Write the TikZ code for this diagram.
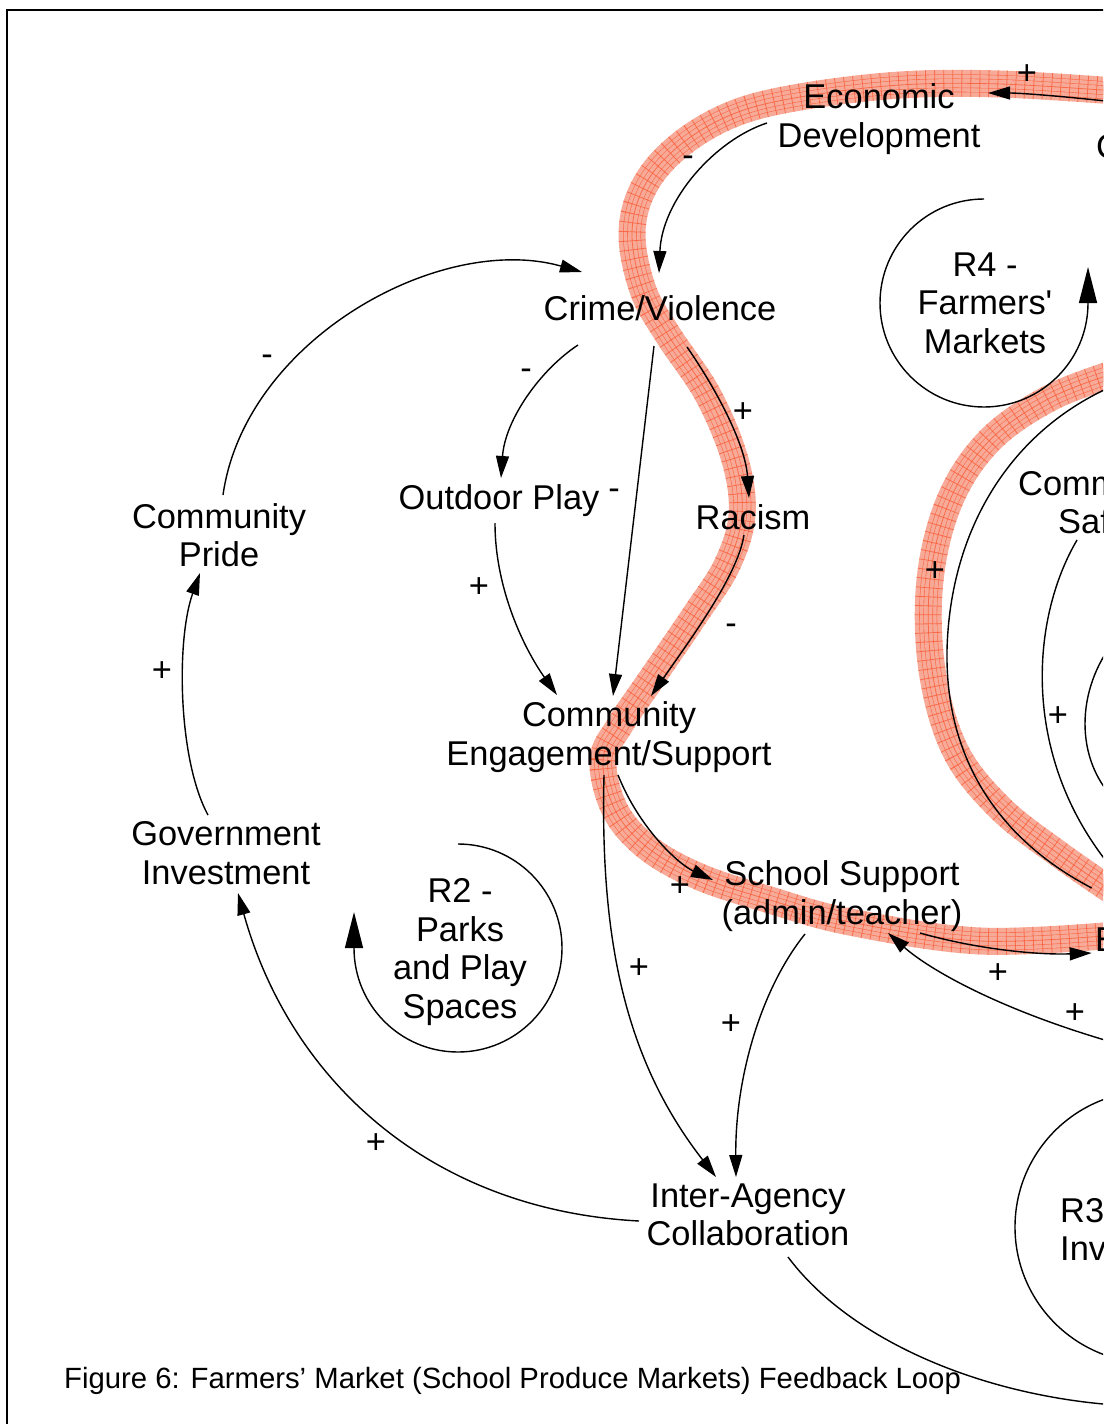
\documentclass[tikz,border=0pt]{standalone}
\usepackage{fontspec}
\setmainfont{Liberation Sans}
\usetikzlibrary{arrows.meta}

\definecolor{bandfill}{RGB}{247,170,152}
\definecolor{bandhatch}{RGB}{250,88,50}

\tikzset{
  var/.style={align=center, inner sep=0pt, font=\fontsize{34.4}{38.5}\selectfont},
  frag/.style={anchor=west, inner sep=0pt, font=\fontsize{34.4}{38.5}\selectfont},
  sgn/.style={inner sep=0pt, font=\fontsize{34.4}{38.5}\selectfont},
  link/.style={line width=1.4pt, -{Triangle[length=22pt,width=13pt]}},
  plain/.style={line width=1.4pt},
  loopy/.style={line width=1.4pt, -{Triangle[length=36pt,width=18pt]}},
  band/.style={line width=#1, color=bandfill, line cap=round, line join=round},
  hatch/.style={line width=#1, color=bandhatch, draw opacity=0.75, line join=round}
}

% the two highlighted strokes
\newcommand{\loopone}{plot[smooth, tension=0.6] coordinates {(1115,91) (1000,84) (900,85) (800,97) (733,114) (680,145) (645,185) (632,233) (643,290) (668,335) (708,395) (735,460) (742,515) (727,565) (695,615) (652,678) (620,725) (603,760) (615,810) (648,848) (700,877) (770,900) (850,922) (980,941) (1115,935)}}
\newcommand{\looptwo}{plot[smooth, tension=0.6] coordinates {(1115,373) (1050,398) (990,440) (950,500) (930,580) (932,670) (955,750) (1000,808) (1060,855) (1115,893)}}

\begin{document}
\begin{tikzpicture}[x=1pt,y=-1pt]
\useasboundingbox (0,0) rectangle (1103,1424);
\begin{scope}
\clip (0,0) rectangle (1103,1424);

% frame
\draw[line width=2.2pt] (7,1440) -- (7,10) -- (1120,10);

% highlighted loop
\foreach \bp in {\loopone,\looptwo} {
  \draw[band=27pt] \bp;
  \draw[hatch=18pt] \bp;
  \draw[band=16.8pt] \bp;
  \draw[hatch=9.6pt] \bp;
  \draw[band=8.4pt] \bp;
  \draw[hatch=0.8pt] \bp;
  \draw[hatch=27pt, dash pattern=on 0.8pt off 8.2pt] \bp;
}

% variables
\node[var] (eco) at (879,119) {Economic\\Development};
\node[var] (crime) at (660,308) {Crime/Violence};
\node[var] (pride) at (219,535) {Community\\Pride};
\node[var] (play) at (499,501) {Outdoor Play};
\node[var] (racism) at (753,517) {Racism};
\node[var] (engage) at (609,737) {Community\\Engagement/Support};
\node[var] (gov) at (226,853) {Government\\Investment};
\node[var] (school) at (842,896) {School Support\\(admin/teacher)};
\node[var] (inter) at (748,1215) {Inter-Agency\\Collaboration};
\node[var] (r4) at (985,303) {R4 -\\Farmers\textquotesingle\\Markets};
\node[var] (r2) at (460,952) {R2 -\\Parks\\and Play\\Spaces};

% cut at the right edge
\node[frag] (cc) at (1096,147) {C};
\node[frag] (comm) at (1018,484) {Comm};
\node[frag] (saf) at (1058,521) {Saf};
\node[frag] (ee) at (1095,940) {E};
\node[frag] (r3) at (1060,1211) {R3};
\node[frag] (inv) at (1060,1249) {Inv};

\coordinate (offa) at (1115,102);
\coordinate (offb) at (1115,1043);
\coordinate (offc) at (1115,1405);
\coordinate (offd) at (1115,385);
\coordinate (offe) at (1115,872);

% loops
\draw[loopy] (984,303) ++(270:104) arc[start angle=270, end angle=0, radius=104] -- ++(0,-36);
\draw[loopy] (458,948) ++(-90:104) arc[start angle=-90, end angle=180, radius=104] -- ++(0,-36);
\draw[plain] (1151,1227) circle[radius=136];

% links
\draw[link] ([shift={(-112,4)}]eco.center) .. controls (715,140) and (662,200) .. ([shift={(-1,-35)}]crime.center);
\draw[link] ([shift={(4,-40)}]pride.center) .. controls (245,340) and (440,232) .. ([shift={(-78,-36)}]crime.center);
\draw[link] ([shift={(-82,37)}]crime.center) .. controls (540,370) and (505,420) .. ([shift={(2,-23)}]play.center);
\draw[link] ([shift={(-6,38)}]crime.center) -- ([shift={(4,-41)}]engage.center);
\draw[link] ([shift={(27,39)}]crime.center) .. controls (710,380) and (745,440) .. ([shift={(-4,-19)}]racism.center);
\draw[link] ([shift={(-9,18)}]racism.center) .. controls (738,575) and (690,640) .. ([shift={(42,-41)}]engage.center);
\draw[link] ([shift={(-4,22)}]play.center) .. controls (495,590) and (525,650) .. ([shift={(-52,-42)}]engage.center);
\draw[link] ([shift={(-18,-38)}]gov.center) .. controls (178,760) and (176,640) .. ([shift={(-19,38)}]pride.center);
\draw[link] ([shift={(-109,6)}]inter.center) .. controls (430,1210) and (290,1080) .. ([shift={(12,40)}]gov.center);
\draw[link] ([shift={(-5,38)}]engage.center) .. controls (600,940) and (625,1060) .. ([shift={(-32,-38)}]inter.center);
\draw[link] ([shift={(9,38)}]engage.center) .. controls (640,830) and (680,865) .. ([shift={(-129,-16)}]school.center);
\draw[link] ([shift={(-37,38)}]school.center) .. controls (760,990) and (735,1080) .. ([shift={(-12,-38)}]inter.center);
\draw[link] ([shift={(78,37)}]school.center) .. controls (980,950) and (1040,955) .. ([shift={(-15,13)}]ee.center);
\draw[link] (offb) .. controls (1000,1010) and (930,970) .. ([shift={(46,37)}]school.center);
\draw[link] (offa) .. controls (1060,96) and (1020,93) .. ([shift={(109,-26)}]eco.center);
\draw[plain] ([shift={(40,42)}]inter.center) .. controls (850,1340) and (980,1395) .. (offc);
\draw[plain] ([shift={(-15,-52)}]ee.center) .. controls (1000,840) and (945,760) .. (947,650) .. controls (950,530) and (1010,430) .. (offd);
\draw[plain] ([shift={(-7,19)}]saf.center) .. controls (1030,620) and (1020,760) .. (offe);
\draw[plain] (1115,640) .. controls (1075,690) and (1075,760) .. (1115,800);

% polarities
\foreach \x/\y/\s [count=\i] in {267/360/-, 688/161/-, 526/374/-, 743/413/+, 614/494/-, 479/588/+, 731/629/-, 162/672/+, 680/887/+, 639/969/+, 731/1025/+, 998/974/+, 1075/1014/+, 376/1144/+, 935/572/+, 1058/717/+, 1027/75/+}
  \node[sgn] (pol\i) at (\x,\y) {\s};

% caption
\node[anchor=west, inner sep=0pt, font=\fontsize{29.3}{32}\selectfont] (cap) at (64,1381) {Figure 6: Farmers’ Market (School Produce Markets) Feedback Loop};
\end{scope}
\end{tikzpicture}
\end{document}
